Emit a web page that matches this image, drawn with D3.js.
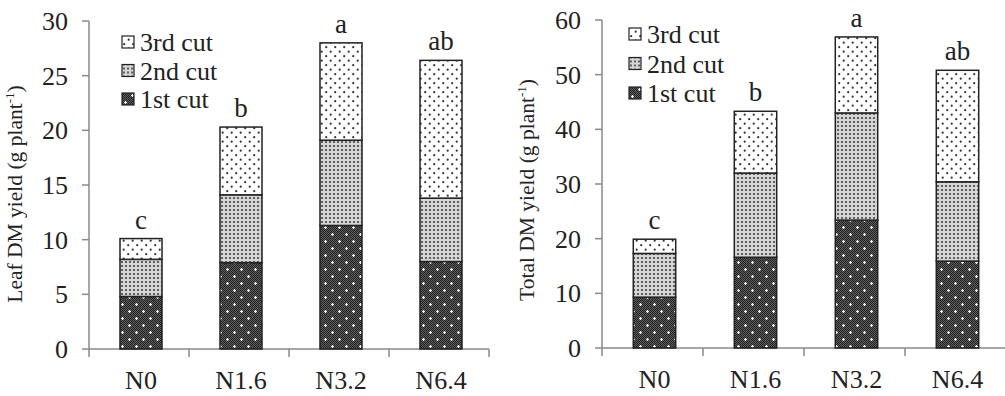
<!DOCTYPE html>
<html>
<head>
<meta charset="utf-8">
<script src="https://cdn.jsdelivr.net/npm/d3@7"></script>
<style>
  body { margin: 0; background: #fff; }
  svg text { font-family: "Liberation Serif", "DejaVu Serif", serif; }
</style>
</head>
<body>
<div id="chart"></div>
<script>
// --- Data ---
const treatments = ["N0", "N1.6", "N3.2", "N6.4"];
const cuts = ["1st cut", "2nd cut", "3rd cut"];

// leaf DM yield per cut (g plant-1)
const leafCut1 = [4.8, 7.9, 11.3, 8.0];
const leafCut2 = [3.4, 6.2, 7.8, 5.8];
const leafCut3 = [1.9, 6.2, 8.9, 12.6];
const leafLetters = ["c", "b", "a", "ab"];
const leafTicks = [0, 5, 10, 15, 20, 25, 30];

// total DM yield per cut (g plant-1)
const totalCut1 = [9.3, 16.6, 23.4, 15.9];
const totalCut2 = [8.0, 15.4, 19.6, 14.5];
const totalCut3 = [2.6, 11.3, 13.9, 20.4];
const totalLetters = ["c", "b", "a", "ab"];
const totalTicks = [0, 10, 20, 30, 40, 50, 60];

const width = 1005, height = 396;
const serif = "'Liberation Serif', 'DejaVu Serif', serif";
const svg = d3.select("#chart").append("svg")
  .attr("width", width).attr("height", height);

// --- Patterns ---
const defs = svg.append("defs");

const fine = defs.append("pattern").attr("id", "fineDark")
  .attr("patternUnits", "userSpaceOnUse").attr("width", 2).attr("height", 2);
fine.append("rect").attr("width", 2).attr("height", 2).attr("fill", "#5e5e5e");
fine.append("rect").attr("width", 1).attr("height", 1).attr("fill", "#222");
fine.append("rect").attr("x", 1).attr("y", 1).attr("width", 1).attr("height", 1).attr("fill", "#222");

const p1 = defs.append("pattern").attr("id", "cut1")
  .attr("patternUnits", "userSpaceOnUse").attr("width", 14).attr("height", 14);
p1.append("rect").attr("width", 14).attr("height", 14).attr("fill", "url(#fineDark)");
[[3.5, 3.5], [10.5, 10.5]].forEach(([cx, cy]) => {
  p1.append("rect").attr("x", cx - 1.5).attr("y", cy - 0.6).attr("width", 3).attr("height", 1.2).attr("fill", "#eee");
  p1.append("rect").attr("x", cx - 0.6).attr("y", cy - 1.5).attr("width", 1.2).attr("height", 3).attr("fill", "#eee");
});

const p2 = defs.append("pattern").attr("id", "cut2")
  .attr("patternUnits", "userSpaceOnUse").attr("width", 4).attr("height", 4);
p2.append("rect").attr("width", 4).attr("height", 4).attr("fill", "#d6d6d6");
p2.append("circle").attr("cx", 2).attr("cy", 2).attr("r", 1.1).attr("fill", "#444");

const p3 = defs.append("pattern").attr("id", "cut3")
  .attr("patternUnits", "userSpaceOnUse").attr("width", 9).attr("height", 9);
p3.append("rect").attr("width", 9).attr("height", 9).attr("fill", "#fff");
p3.append("circle").attr("cx", 2.2).attr("cy", 2.2).attr("r", 1.1).attr("fill", "#333");
p3.append("circle").attr("cx", 6.7).attr("cy", 6.7).attr("r", 1.1).attr("fill", "#333");

const fills = { "1st cut": "url(#cut1)", "2nd cut": "url(#cut2)", "3rd cut": "url(#cut3)" };
const axisColor = "#8a8a8a";
const textColor = "#222";

function drawPanel(opts) {
  const { series, letters, ticks, yMax, xRange, yRange, title, titleX, titleY, legendX, legendY, legendStep } = opts;

  const x = d3.scaleBand().domain(treatments).range(xRange).padding(0);
  const y = d3.scaleLinear().domain([0, yMax]).range(yRange);

  const rows = treatments.map((t, i) => {
    const r = { treatment: t };
    cuts.forEach((c, j) => { r[c] = series[j][i]; });
    return r;
  });
  const stacked = d3.stack().keys(cuts)(rows);

  const g = svg.append("g");
  const barW = x.bandwidth() * 0.42;

  // y axis
  g.append("line")
    .attr("x1", xRange[0]).attr("x2", xRange[0])
    .attr("y1", y(yMax)).attr("y2", y(0))
    .attr("stroke", axisColor).attr("stroke-width", 1.5);
  g.selectAll(".ytick").data(ticks).join("line")
    .attr("x1", xRange[0] - 7).attr("x2", xRange[0])
    .attr("y1", d => y(d)).attr("y2", d => y(d))
    .attr("stroke", axisColor).attr("stroke-width", 1.5);
  g.selectAll(".ylab").data(ticks).join("text")
    .attr("x", xRange[0] - 21).attr("y", d => y(d))
    .attr("dy", "0.35em")
    .attr("text-anchor", "end")
    .attr("font-family", serif)
    .attr("font-size", 26).attr("fill", textColor)
    .text(d => d);

  // x axis
  g.append("line")
    .attr("x1", xRange[0]).attr("x2", xRange[1])
    .attr("y1", y(0)).attr("y2", y(0))
    .attr("stroke", axisColor).attr("stroke-width", 1.5);
  const bounds = treatments.map(t => x(t)).concat([xRange[1]]);
  g.selectAll(".xtick").data(bounds).join("line")
    .attr("x1", d => d).attr("x2", d => d)
    .attr("y1", y(0)).attr("y2", y(0) + 8)
    .attr("stroke", axisColor).attr("stroke-width", 1.5);
  g.selectAll(".xlab").data(treatments).join("text")
    .attr("x", d => x(d) + x.bandwidth() / 2 + 2)
    .attr("y", y(0) + 40)
    .attr("text-anchor", "middle")
    .attr("font-family", serif)
    .attr("font-size", 26).attr("fill", textColor)
    .text(d => d);

  // bars
  stacked.forEach(layer => {
    g.append("g").selectAll("rect").data(layer).join("rect")
      .attr("x", d => x(d.data.treatment) + (x.bandwidth() - barW) / 2 + 2)
      .attr("y", d => y(d[1]))
      .attr("width", barW)
      .attr("height", d => y(d[0]) - y(d[1]))
      .attr("fill", fills[layer.key])
      .attr("stroke", "#222").attr("stroke-width", 1.5);
  });

  // significance letters
  const top = stacked[stacked.length - 1];
  g.selectAll(".sig").data(top).join("text")
    .attr("x", d => x(d.data.treatment) + x.bandwidth() / 2 + 2)
    .attr("y", d => y(d[1]) - 10)
    .attr("text-anchor", "middle")
    .attr("font-family", serif)
    .attr("font-size", 27).attr("fill", textColor)
    .text((d, i) => letters[i]);

  // y title
  const t = g.append("text")
    .attr("transform", `translate(${titleX},${titleY}) rotate(-90)`)
    .attr("text-anchor", "middle")
    .attr("font-family", serif)
    .attr("font-size", 21.5).attr("fill", textColor);
  t.append("tspan").text(title + " (g plant");
  t.append("tspan").attr("font-size", 13).attr("dy", -8).text("-1");
  t.append("tspan").attr("dy", 8).text(")");

  // legend
  const legendItems = cuts.slice().reverse();
  const lg = g.selectAll(".leg").data(legendItems).join("g")
    .attr("transform", (d, i) => `translate(${legendX},${legendY + i * legendStep})`);
  lg.append("rect")
    .attr("x", 0).attr("y", -6).attr("width", 12).attr("height", 12)
    .attr("fill", d => fills[d]).attr("stroke", "#222").attr("stroke-width", 1.2);
  lg.append("text")
    .attr("x", 18).attr("y", 0).attr("dy", "0.35em")
    .attr("font-family", serif)
    .attr("font-size", 26).attr("fill", textColor)
    .text(d => d);
}

drawPanel({
  series: [leafCut1, leafCut2, leafCut3],
  letters: leafLetters, ticks: leafTicks, yMax: 30,
  xRange: [89, 489], yRange: [349, 21],
  title: "Leaf DM yield", titleX: 22, titleY: 194,
  legendX: 122, legendY: 42, legendStep: 28.5
});

drawPanel({
  series: [totalCut1, totalCut2, totalCut3],
  letters: totalLetters, ticks: totalTicks, yMax: 60,
  xRange: [602, 1006], yRange: [348, 20],
  title: "Total DM yield", titleX: 534, titleY: 190,
  legendX: 629, legendY: 34, legendStep: 29.5
});
</script>
</body>
</html>
